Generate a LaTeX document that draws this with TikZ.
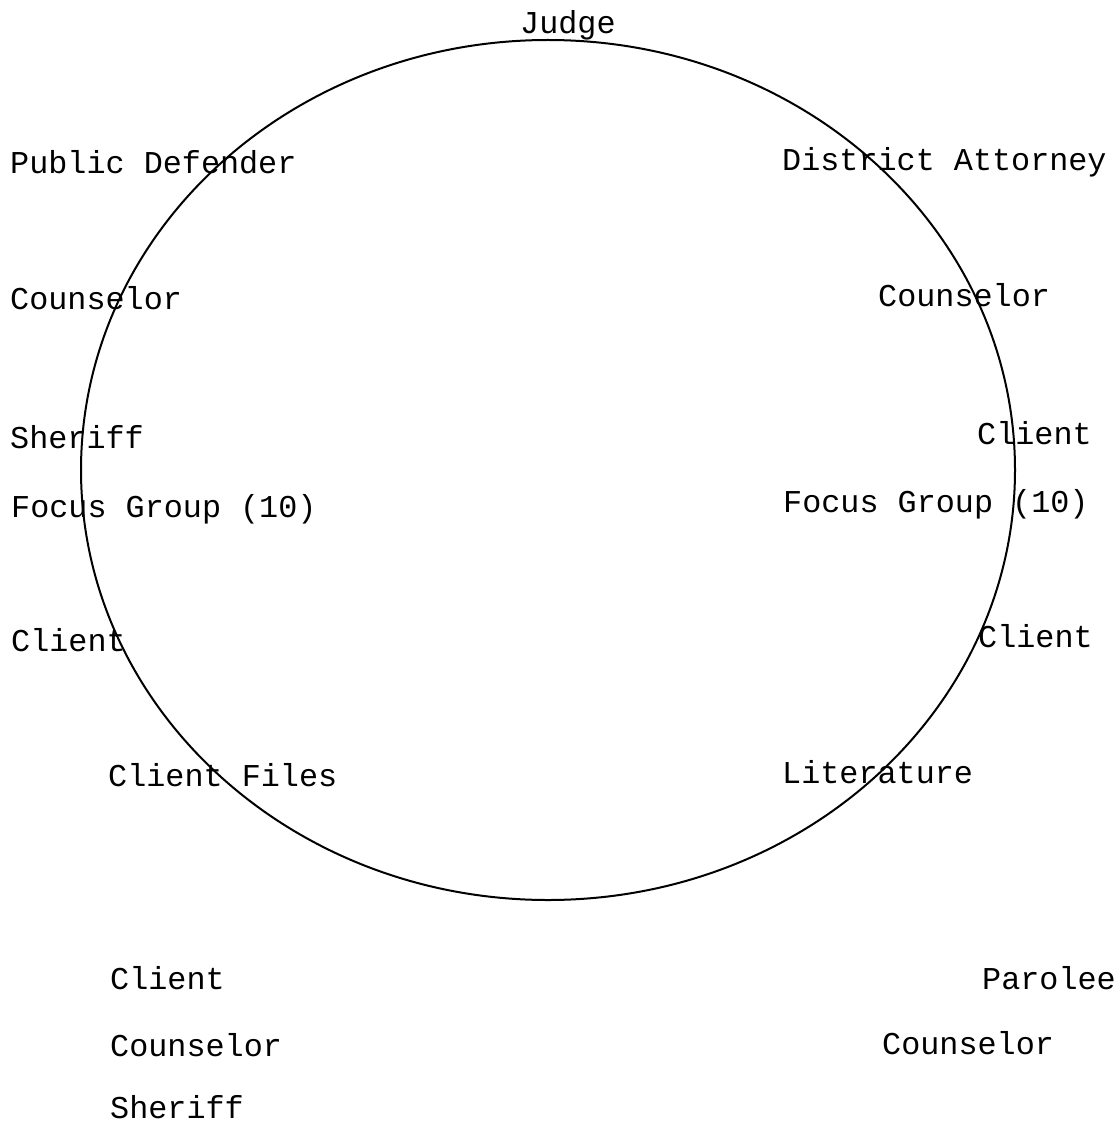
\documentclass[tikz,border=0pt]{standalone}
\usepackage{fontspec}
\setmonofont{Liberation Mono}
\begin{document}
\begin{tikzpicture}[x=1pt,y=-1pt,
  lbl/.style={anchor=base west,inner sep=0pt,font=\ttfamily\fontsize{31.8}{38}\selectfont},
  ring/.style={draw=black,line width=2pt}]
\useasboundingbox (0,0) rectangle (1115,1126);
\draw[ring] (548,470) ellipse [x radius=467, y radius=430];
\node[lbl] (judge) at (520,34) {Judge};
\node[lbl] (pd) at (10,174) {Public Defender};
\node[lbl] (da) at (782,171) {District Attorney};
\node[lbl] (couL) at (10,309) {Counselor};
\node[lbl] (couR) at (878,306) {Counselor};
\node[lbl] (sherL) at (10,448) {Sheriff};
\node[lbl] (cliR1) at (977,444) {Client};
\node[lbl] (fgL) at (11,517) {Focus Group (10)};
\node[lbl] (fgR) at (783,512) {Focus Group (10)};
\node[lbl] (cliL) at (11,651) {Client};
\node[lbl] (cliR2) at (978,647) {Client};
\node[lbl] (files) at (108,786) {Client Files};
\node[lbl] (lit) at (782,783) {Literature};
\node[lbl] (cliB) at (110,989) {Client};
\node[lbl] (couB) at (110,1056) {Counselor};
\node[lbl] (sherB) at (110,1118) {Sheriff};
\node[lbl] (par) at (982,989) {Parolee};
\node[lbl] (couBR) at (882,1054) {Counselor};
\end{tikzpicture}
\end{document}
